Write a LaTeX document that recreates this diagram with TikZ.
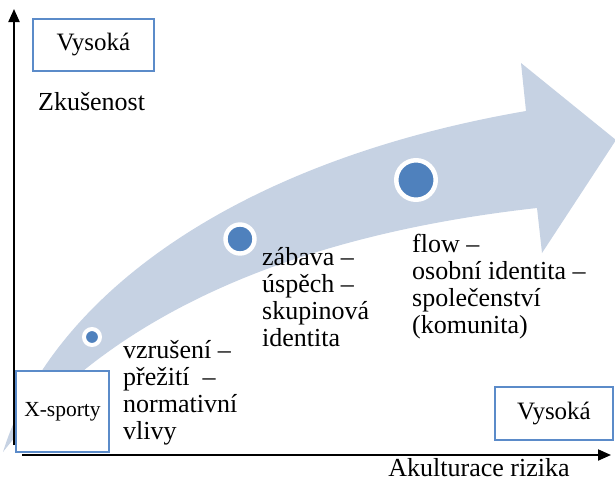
\documentclass[tikz,border=0pt]{standalone}
\usepackage{fontspec}
\setmainfont{Liberation Serif}
\newfontfamily\stagefont{Liberation Serif}
\usetikzlibrary{arrows.meta}
\definecolor{bandfill}{HTML}{C6D2E3}
\definecolor{dotblue}{HTML}{4F81BD}
\definecolor{frameblue}{HTML}{5B8BC9}

\begin{document}
\begin{tikzpicture}[x=1pt,y=-1pt,
  axis/.style={line width=2pt, -{Triangle[length=13pt,width=11pt]}},
  labelbox/.style={draw=frameblue, line width=1.2pt, fill=white, inner sep=0pt,
    font=\rmfamily\fontsize{25}{30}\selectfont},
  axislabel/.style={inner sep=0pt, font=\rmfamily\fontsize{26}{30}\selectfont},
  stage/.style={align=left, anchor=north west, inner sep=0pt,
    font=\stagefont\fontsize{26}{27}\selectfont},
  dot/.style={circle, fill=dotblue, draw=white, inner sep=0pt},
]
\useasboundingbox (0,0) rectangle (615,490);

% broad curved arrow in the background
\fill[bandfill] (3,452) .. controls (50,300) and (230,162) .. (526,111)
  -- (521,63) -- (616,140) -- (542,253) -- (537,208)
  .. controls (250,240) and (90,340) .. (3,452) -- cycle;

% axes
\coordinate (yfoot) at (14,445);
\coordinate (ytop) at (14,9);
\coordinate (xfoot) at (22,455);
\coordinate (xend) at (611,455);
\draw[axis] (yfoot) -- (ytop);
\draw[axis] (xfoot) -- (xend);

% framed labels
\node[labelbox, minimum width=121pt, minimum height=52pt] (highY) at (93.5,45) {Vysoká};
\node[labelbox, minimum width=93pt, minimum height=81pt,
  font=\rmfamily\fontsize{21.5}{26}\selectfont] (xsport) at (62.5,411.5) {X-sporty};
\node[labelbox, minimum width=118pt, minimum height=53pt] (highX) at (554,413.5) {Vysoká};

% axis titles
\node[axislabel, anchor=base west] (ylabel) at (38,110) {Zkušenost};
\node[axislabel, anchor=base] (xlabel) at (479,476) {Akulturace rizika};

% stages along the arrow
\node[dot, minimum size=16pt, line width=4pt] (d1) at (92,337) {};
\node[dot, minimum size=29pt, line width=4.4pt] (d2) at (240,239) {};
\node[dot, minimum size=39.5pt, line width=4.5pt] (d3) at (416,180) {};

\node[stage] (s1) at (123,340) {vzrušení –\\přežití\ \ –\\normativní\\vlivy};
\node[stage] (s2) at (262,247) {zábava –\\úspěch –\\skupinová\\identita};
\node[stage] (s3) at (412,234) {flow –\\osobní identita –\\společenství\\(komunita)};
\end{tikzpicture}
\end{document}
